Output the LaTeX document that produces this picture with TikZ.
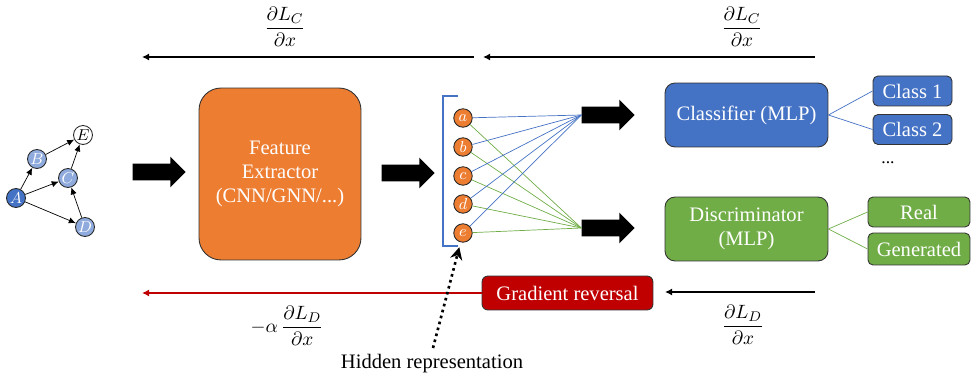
\documentclass[tikz,border=0pt]{standalone}
\usepackage{amsmath}
\usepackage{fontspec}
\setmainfont{Liberation Serif}
\usetikzlibrary{shapes.arrows,arrows.meta}
\definecolor{ppblue}{HTML}{4472C4}
\definecolor{pplightblue}{HTML}{8FAADC}
\definecolor{pporange}{HTML}{ED7D31}
\definecolor{ppgreen}{HTML}{70AD47}
\definecolor{ppred}{HTML}{C00000}
\tikzset{
  box/.style={draw=black!80,line width=0.5pt,rounded corners=0.2cm,text=white,
    align=center,font=\fontsize{11.7}{13.6}\selectfont,inner sep=0pt},
  gnode/.style={circle,draw=black!85,line width=0.5pt,fill=pplightblue,text=white,
    minimum size=0.38cm,inner sep=0pt,font=\fontsize{9.5}{9}\selectfont},
  hid/.style={circle,draw=black!85,line width=0.5pt,fill=pporange,text=white,
    minimum size=0.37cm,inner sep=0pt,font=\fontsize{9.5}{9}\selectfont},
  bigarrow/.style={single arrow,fill=black,minimum height=1.06cm,inner xsep=0pt,
    inner ysep=0.16cm,single arrow head extend=0.14cm,single arrow tip angle=90},
  grad/.style={line width=1pt,-{Latex[length=4pt,width=4pt]}},
  frac/.style={font=\fontsize{11}{13}\selectfont},
  gedge/.style={line width=0.4pt,-{Latex[length=4pt,width=3.5pt]}}
}
\begin{document}
\begin{tikzpicture}[x=0.02cm,y=-0.02cm]
\useasboundingbox (0,0) rectangle (971,378);
% input graph
\node[gnode,fill=ppblue] (A) at (16,198) {$A$};
\node[gnode] (B) at (37,159) {$B$};
\node[gnode] (C) at (68,178) {$C$};
\node[gnode] (D) at (85,227) {$D$};
\node[gnode,fill=white,text=black] (E) at (83,135) {$E$};
\draw[gedge] (A) -- (B);
\draw[gedge] (A) -- (C);
\draw[gedge] (A) -- (D);
\draw[gedge] (B) -- (E);
\draw[gedge] (C) -- (E);
\draw[gedge] (D) -- (C);
% feature extractor
\node[bigarrow] (arrIn) at (155,172) {};
\node[box,fill=pporange,minimum width=3.24cm,minimum height=3.44cm,rounded corners=0.44cm]
  (fe) at (280,174) {Feature\\Extractor\\(CNN/GNN/...)};
\node[bigarrow] (arrFe) at (404,173) {};
% hidden representation
\draw[ppblue,line width=1.7pt] (458,96) -- (443,96) -- (443,246) -- (458,246);
\foreach \n/\y in {a/118,b/147,c/176,d/204,e/233}
  \node[hid] (\n) at (463,\y) {$\n$};
\node[bigarrow] (arrC) at (604,115) {};
\node[bigarrow] (arrD) at (604,228) {};
\foreach \n in {a,b,c,d,e}{
  \draw[ppblue,line width=0.4pt] (\n) -- (arrC.west);
  \draw[ppgreen,line width=0.4pt] (\n) -- (arrD.west);
}
% heads
\node[box,fill=ppblue,minimum width=3.26cm,minimum height=1.28cm] (cls) at (746.5,115) {Classifier (MLP)};
\node[box,fill=ppblue,minimum width=1.58cm,minimum height=0.6cm,rounded corners=0.1cm] (c1) at (912.5,91) {Class 1};
\node[box,fill=ppblue,minimum width=1.58cm,minimum height=0.6cm,rounded corners=0.1cm] (c2) at (912.5,129.5) {Class 2};
\node[font=\fontsize{10}{10}\selectfont] (dots) at (888,163) {...};
\draw[ppblue,line width=0.4pt] (cls.east) -- (c1.west);
\draw[ppblue,line width=0.4pt] (cls.east) -- (c2.west);
\node[box,fill=ppgreen,minimum width=3.26cm,minimum height=1.28cm] (dis) at (746.5,229) {Discriminator\\(MLP)};
\node[box,fill=ppgreen,minimum width=2.04cm,minimum height=0.6cm,rounded corners=0.1cm] (real) at (919,212) {Real};
\node[box,fill=ppgreen,minimum width=2.04cm,minimum height=0.64cm,rounded corners=0.1cm] (gen) at (919,249) {Generated};
\draw[ppgreen,line width=0.4pt] (dis.east) -- (real.west);
\draw[ppgreen,line width=0.4pt] (dis.east) -- (gen.west);
% gradients
\coordinate (t1s) at (474,57);
\coordinate (t1e) at (142,57);
\coordinate (t2s) at (815,57);
\coordinate (t2e) at (483,57);
\draw[grad] (t1s) -- (t1e);
\draw[grad] (t2s) -- (t2e);
\node[frac] (lc1) at (285,27) {$\dfrac{\partial L_C}{\partial x}$};
\node[frac] (lc2) at (742,27) {$\dfrac{\partial L_C}{\partial x}$};
\node[box,fill=ppred,minimum width=3.42cm,minimum height=0.68cm,rounded corners=0.12cm] (rev) at (567.5,293) {Gradient reversal};
\coordinate (rve) at (142,293);
\coordinate (lds) at (815,292);
\coordinate (lde) at (665,292);
\draw[grad,ppred] (rev.west) -- (rve);
\draw[grad] (lds) -- (lde);
\node[frac] (ld1) at (287,326) {$-\alpha\,\dfrac{\partial L_D}{\partial x}$};
\node[frac] (ld2) at (743,325) {$\dfrac{\partial L_D}{\partial x}$};
% hidden representation label
\node[font=\fontsize{11.7}{14}\selectfont] (hlab) at (432,364) {Hidden representation};
\coordinate (hs) at (433,348);
\draw[line width=1.5pt,dotted,-{Stealth[length=7pt,width=7pt]},shorten >=0.1cm] (hs) -- (e);
\end{tikzpicture}
\end{document}
